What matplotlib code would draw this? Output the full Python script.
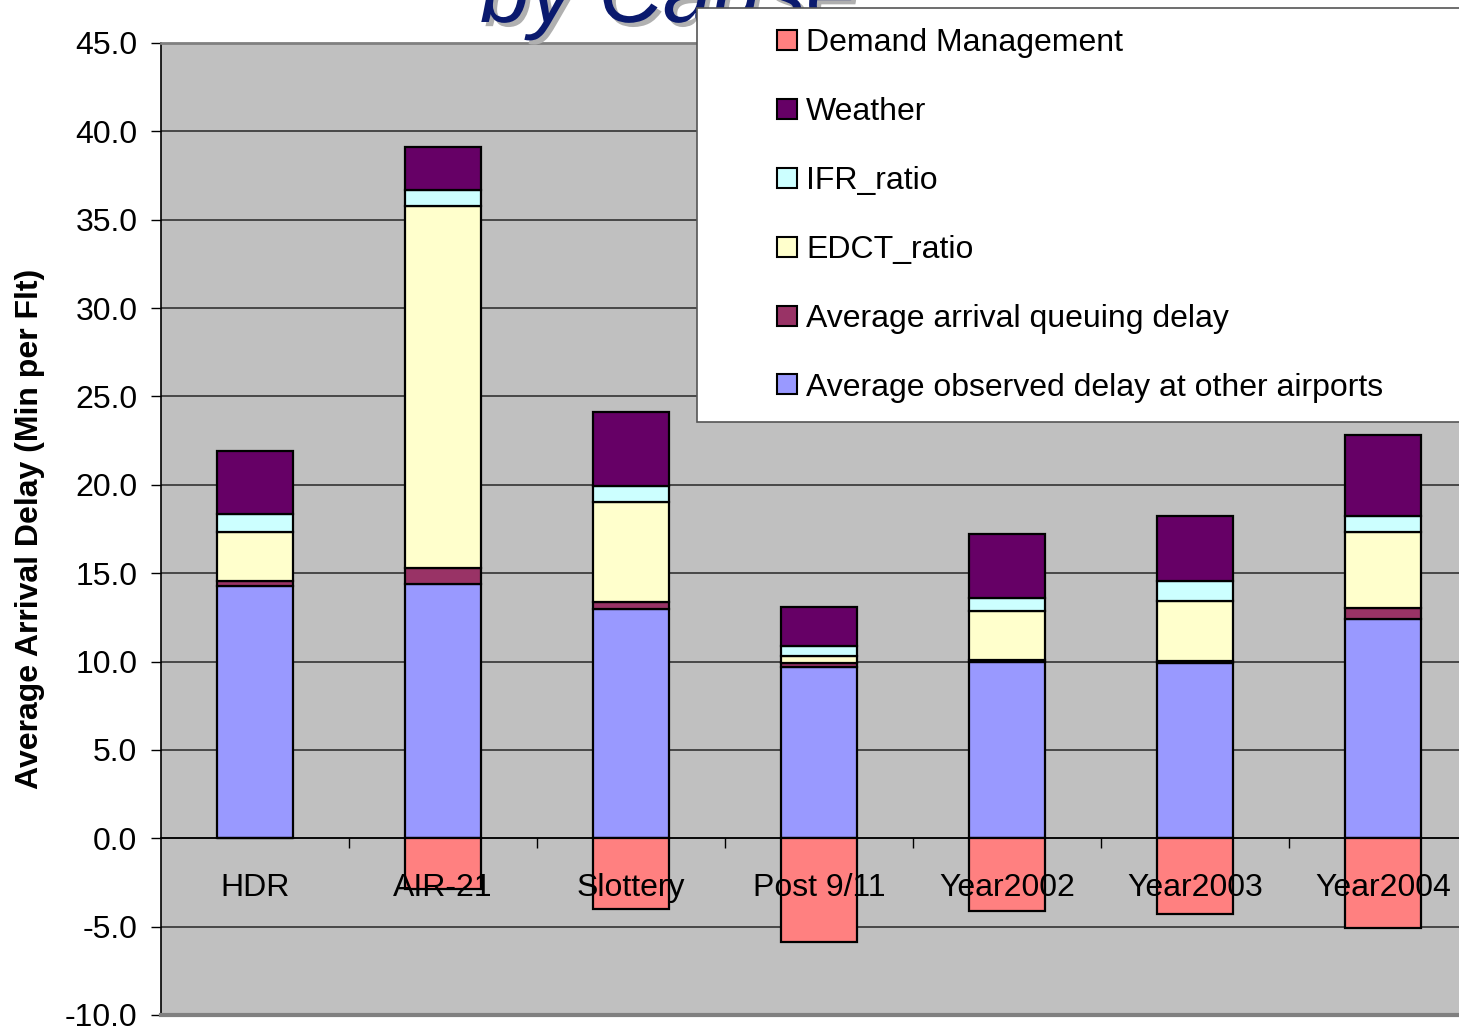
import numpy as np
import matplotlib
matplotlib.use("Agg")
import matplotlib.pyplot as plt
from matplotlib.lines import Line2D
from matplotlib.ticker import FixedLocator, FormatStrFormatter
import matplotlib.patheffects as pe

plt.rcParams['font.family'] = ['Liberation Sans', 'DejaVu Sans']

# data (minutes per flight)
categories = ["HDR", "AIR-21", "Slottery", "Post 9/11", "Year2002", "Year2003", "Year2004"]
observed_other = [14.3, 14.4, 13.0, 9.7, 10.0, 9.9, 12.4]
queuing_delay = [0.25, 0.9, 0.35, 0.2, 0.1, 0.15, 0.65]
edct_ratio = [2.8, 20.5, 5.7, 0.4, 2.75, 3.4, 4.3]
ifr_ratio = [1.0, 0.9, 0.9, 0.6, 0.75, 1.1, 0.9]
weather = [3.55, 2.4, 4.15, 2.2, 3.6, 3.7, 4.55]
demand_mgmt = [0.0, -2.85, -4.0, -5.85, -4.1, -4.3, -5.05]

fig = plt.figure(figsize=(14.59, 10.29), dpi=100)
ax = fig.add_axes([161/1459, 14/1029, 1316/1459, 972/1029])
ax.set_facecolor("#C0C0C0")

x = np.arange(len(categories))
w = 0.4
ec = dict(edgecolor="black", linewidth=1.6)

series = [
    ("Average observed delay at other airports", observed_other, "#9999FF"),
    ("Average arrival queuing delay", queuing_delay, "#993366"),
    ("EDCT_ratio", edct_ratio, "#FFFFCC"),
    ("IFR_ratio", ifr_ratio, "#CCFFFF"),
    ("Weather", weather, "#660066"),
]
bottom = np.zeros(len(categories))
for name, vals, col in series:
    ax.bar(x, vals, w, bottom=bottom, color=col, zorder=2, **ec)
    bottom += np.array(vals)
ax.bar(x, demand_mgmt, w, color="#FF8080", zorder=2, **ec)

ax.set_xlim(-0.5, len(categories) - 0.5)
ax.set_ylim(-10, 45)
ax.set_yticks(np.arange(-10, 46, 5))
ax.yaxis.set_major_formatter(FormatStrFormatter("%.1f"))
ax.yaxis.grid(True, color="#333333", linewidth=1.2)
ax.set_axisbelow(True)

# category axis crosses at zero, labels drawn above bars
ax.spines['bottom'].set_position(('data', 0))
ax.spines['bottom'].set_color("black")
ax.spines['bottom'].set_linewidth(1.2)
ax.set_xticks(x)
ax.set_xticklabels(categories)
ax.xaxis.set_minor_locator(FixedLocator(x[:-1] + 0.5))
ax.tick_params(axis='x', which='major', length=0, pad=25, labelsize=23)
ax.tick_params(axis='x', which='minor', length=7, width=1, direction='out')
ax.xaxis.set_zorder(5)
ax.axhline(-10, color="#808080", linewidth=3, zorder=3, clip_on=False)

ax.spines['top'].set_color("#808080")
ax.spines['top'].set_linewidth(2)
ax.spines['right'].set_visible(False)
ax.spines['left'].set_linewidth(1.2)
ax.tick_params(axis='y', length=7, width=1, labelsize=23, pad=10)

ax.set_ylabel("Average Arrival Delay (Min per Flt)", fontsize=23, fontweight="bold", labelpad=14)

# legend (Excel order: top series first)
leg_items = [("Demand Management", "#FF8080")] + [(n, c) for n, v, c in series[::-1]]
handles = [Line2D([], [], marker='s', linestyle='none', markersize=14.5,
                  markerfacecolor=c, markeredgecolor='black', markeredgewidth=1.5)
           for n, c in leg_items]
leg = fig.legend(handles, [n for n, c in leg_items], loc='upper left',
                 bbox_to_anchor=(697/1459, 1 - 8/1029, 0.6, 0.0), mode='expand',
                 fontsize=23, frameon=True, fancybox=False, borderpad=0.62, borderaxespad=0,
                 labelspacing=1.22, handlelength=4.4, handletextpad=-1.6,
                 framealpha=1, facecolor="white")
leg.get_frame().set_edgecolor("#555555")
leg.get_frame().set_linewidth(1.2)
leg.set_zorder(10)

# partially visible slide title behind the legend
fig.text(480/1459, 1 - 22/1029, "by Cause", fontsize=64, fontstyle='italic',
         color="#0A1A6E", va='baseline', ha='left', zorder=1,
         path_effects=[pe.SimplePatchShadow(offset=(3, -3), shadow_rgbFace="#B0B0B0", alpha=1), pe.Normal()])

fig.savefig("out.png", dpi=100)
